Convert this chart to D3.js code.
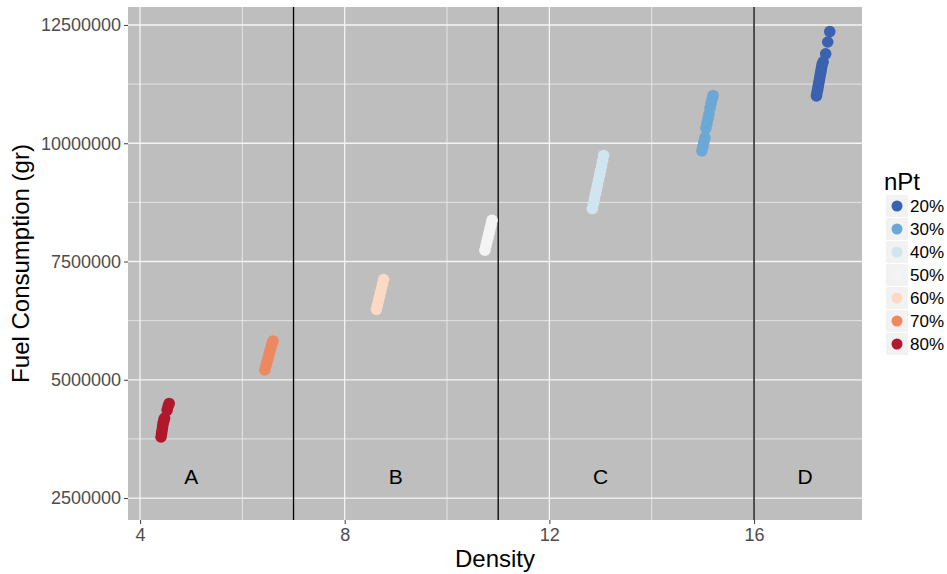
<!DOCTYPE html>
<html>
<head>
<meta charset="utf-8">
<script src="https://cdn.jsdelivr.net/npm/d3@7"></script>
<style>
  html, body { margin: 0; padding: 0; background: #ffffff; }
  svg { display: block; font-family: "Liberation Sans", Arial, sans-serif; }
</style>
</head>
<body>
<svg id="chart" width="947" height="574"></svg>
<script>
// nPt groups, in legend order
const groups = ["20%", "30%", "40%", "50%", "60%", "70%", "80%"];
const groupColors = ["#3B62AF", "#6CA8D5", "#D1E5F0", "#F4F4F4", "#FBD9C5", "#EC8960", "#B1182D"];

// Density / fuel consumption per group
const density20 = [17.22, 17.23, 17.24, 17.25, 17.26, 17.27, 17.28, 17.29, 17.30, 17.31, 17.32, 17.33, 17.35, 17.40, 17.44, 17.48];
const fuel20    = [11000000, 11060000, 11120000, 11180000, 11240000, 11300000, 11360000, 11420000, 11480000, 11540000, 11600000, 11660000, 11720000, 11890000, 12140000, 12360000];
const density30 = [14.98, 15.00, 15.02, 15.04, 15.06, 15.08, 15.10, 15.12, 15.14, 15.16, 15.18, 15.20];
const fuel30    = [9840000, 9930000, 10030000, 10120000, 10320000, 10420000, 10520000, 10620000, 10740000, 10840000, 10930000, 11010000];
const density40 = [12.84, 12.86, 12.88, 12.90, 12.92, 12.94, 12.96, 12.98, 13.00, 13.02, 13.04, 13.06];
const fuel40    = [8620000, 8720000, 8820000, 8920000, 9020000, 9120000, 9220000, 9320000, 9420000, 9520000, 9630000, 9740000];
const density50 = [10.74, 10.76, 10.78, 10.80, 10.82, 10.84, 10.86, 10.88];
const fuel50    = [7740000, 7830000, 7920000, 8010000, 8100000, 8190000, 8280000, 8370000];
const density60 = [8.62, 8.64, 8.66, 8.68, 8.70, 8.72, 8.74, 8.76];
const fuel60    = [6490000, 6580000, 6670000, 6760000, 6850000, 6940000, 7030000, 7120000];
const density70 = [6.44, 6.46, 6.48, 6.50, 6.52, 6.54, 6.56, 6.58, 6.60];
const fuel70    = [5210000, 5290000, 5370000, 5450000, 5530000, 5610000, 5690000, 5770000, 5820000];
const density80 = [4.41, 4.42, 4.43, 4.44, 4.45, 4.46, 4.47, 4.48, 4.53, 4.55, 4.57];
const fuel80    = [3790000, 3860000, 3930000, 4000000, 4070000, 4120000, 4160000, 4190000, 4360000, 4440000, 4500000];

// Region boundaries and labels
const boundaries = [7, 11, 16];
const regionLabels = ["A", "B", "C", "D"];
const regionX = [5, 9, 13, 17];
const regionY = 2950000;

// Axis ticks
const xTicks = [4, 8, 12, 16];
const xMinor = [6, 10, 14];
const yTicks = [2500000, 5000000, 7500000, 10000000, 12500000];
const yMinor = [3750000, 6250000, 8750000, 11250000];

const seriesDensity = [density20, density30, density40, density50, density60, density70, density80];
const seriesFuel = [fuel20, fuel30, fuel40, fuel50, fuel60, fuel70, fuel80];

const points = [];
groups.forEach((g, i) => {
  seriesDensity[i].forEach((d, j) => points.push({ group: g, density: d, fuel: seriesFuel[i][j] }));
});

const svg = d3.select("#chart");
const panel = { left: 128, right: 862, top: 7, bottom: 520 };

const x = d3.scaleLinear().domain([3.765, 18.11]).range([panel.left, panel.right]);
const y = d3.scaleLinear().domain([2036000, 12880000]).range([panel.bottom, panel.top]);
const color = d3.scaleOrdinal().domain(groups).range(groupColors);

// panel background
svg.append("rect")
  .attr("x", panel.left).attr("y", panel.top)
  .attr("width", panel.right - panel.left).attr("height", panel.bottom - panel.top)
  .attr("fill", "#BEBEBE");

const grid = svg.append("g");
grid.selectAll(".xminor").data(xMinor).join("line")
  .attr("x1", d => x(d)).attr("x2", d => x(d))
  .attr("y1", panel.top).attr("y2", panel.bottom)
  .attr("stroke", "#EDEDED").attr("stroke-width", 0.8);
grid.selectAll(".yminor").data(yMinor).join("line")
  .attr("y1", d => y(d)).attr("y2", d => y(d))
  .attr("x1", panel.left).attr("x2", panel.right)
  .attr("stroke", "#EDEDED").attr("stroke-width", 0.8);
grid.selectAll(".xmajor").data(xTicks).join("line")
  .attr("x1", d => x(d)).attr("x2", d => x(d))
  .attr("y1", panel.top).attr("y2", panel.bottom)
  .attr("stroke", "#F4F4F4").attr("stroke-width", 1.3);
grid.selectAll(".ymajor").data(yTicks).join("line")
  .attr("y1", d => y(d)).attr("y2", d => y(d))
  .attr("x1", panel.left).attr("x2", panel.right)
  .attr("stroke", "#F4F4F4").attr("stroke-width", 1.3);

// region boundaries
svg.append("g").selectAll("line").data(boundaries).join("line")
  .attr("x1", d => x(d)).attr("x2", d => x(d))
  .attr("y1", panel.top).attr("y2", panel.bottom)
  .attr("stroke", "#000").attr("stroke-width", 1.3);

// points
svg.append("g").selectAll("circle").data(points).join("circle")
  .attr("cx", d => x(d.density))
  .attr("cy", d => y(d.fuel))
  .attr("r", 5.8)
  .attr("fill", d => color(d.group));

// region labels
svg.append("g").selectAll("text").data(regionLabels).join("text")
  .attr("x", (d, i) => x(regionX[i]))
  .attr("y", y(regionY))
  .attr("dy", "0.36em")
  .attr("text-anchor", "middle")
  .attr("font-size", 21)
  .attr("fill", "#000")
  .text(d => d);

// axes
const xAxis = svg.append("g")
  .attr("transform", `translate(0,${panel.bottom})`)
  .call(d3.axisBottom(x).tickValues(xTicks).tickSize(4).tickPadding(4).tickFormat(d3.format("d")));
const yAxis = svg.append("g")
  .attr("transform", `translate(${panel.left},0)`)
  .call(d3.axisLeft(y).tickValues(yTicks).tickSize(4).tickPadding(3).tickFormat(d3.format("d")));
[xAxis, yAxis].forEach(a => {
  a.select(".domain").remove();
  a.selectAll(".tick line").attr("stroke", "#4D4D4D").attr("stroke-width", 1.1);
  a.selectAll(".tick text").attr("fill", "#4D4D4D").attr("font-size", 18)
    .attr("font-family", "Liberation Sans, Arial, sans-serif");
});

// axis titles
svg.append("text")
  .attr("x", (panel.left + panel.right) / 2).attr("y", 567)
  .attr("text-anchor", "middle").attr("font-size", 24).attr("fill", "#000")
  .text("Density");
svg.append("text")
  .attr("transform", `translate(29,${(panel.top + panel.bottom) / 2}) rotate(-90)`)
  .attr("text-anchor", "middle").attr("font-size", 24).attr("fill", "#000")
  .text("Fuel Consumption (gr)");

// legend
const legend = svg.append("g").attr("transform", "translate(884,0)");
legend.append("text").attr("x", 0).attr("y", 190)
  .attr("font-size", 24).attr("fill", "#000").text("nPt");
const rows = legend.selectAll(".row").data(groups).join("g")
  .attr("transform", (d, i) => `translate(0,${195 + i * 23})`);
rows.append("rect").attr("x", 2).attr("y", 0).attr("width", 22).attr("height", 22)
  .attr("fill", "#F2F2F2");
rows.append("circle").attr("cx", 13).attr("cy", 11).attr("r", 5.5)
  .attr("fill", d => color(d));
rows.append("text").attr("x", 26).attr("y", 11).attr("dy", "0.36em")
  .attr("font-size", 17).attr("fill", "#000").text(d => d);
</script>
</body>
</html>
